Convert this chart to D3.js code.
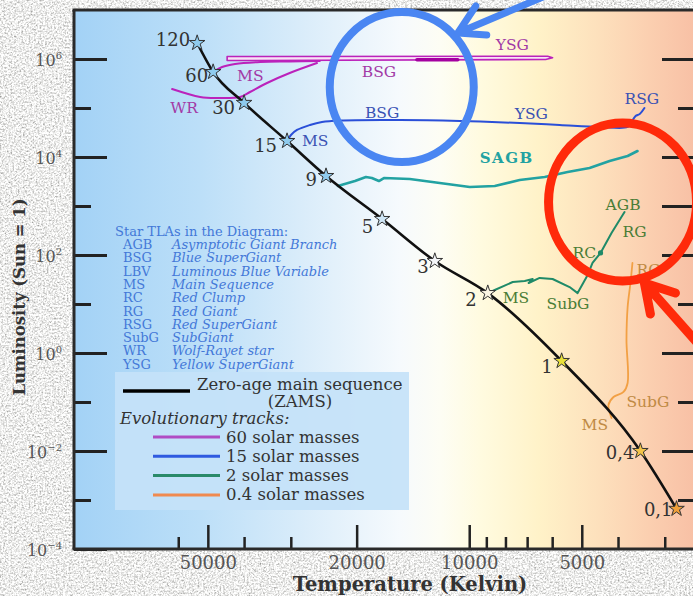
<!DOCTYPE html>
<html>
<head>
<meta charset="utf-8">
<script src="https://cdn.jsdelivr.net/npm/d3@7"></script>
<style>
  html, body { margin: 0; padding: 0; background: #d4d4d0; }
  svg { display: block; }
</style>
</head>
<body>
<script>
// ---------- data ----------
// Zero-age main sequence: stellar mass (solar masses), temperature (K), luminosity (Sun = 1)
const zamsMass  = [120, 60, 30, 15, 9, 5, 3, 2, 1, 0.4, 0.1];
const zamsTemp  = [53400, 48400, 40000, 30700, 24150, 17100, 12360, 8920, 5660, 3485, 2790];
const zamsLum   = [2.12e6, 5.43e5, 1.27e5, 2.12e4, 4090, 543, 75.5, 16.7, 0.687, 0.01, 6.6e-4];
const zamsLabel = ["120", "60", "30", "15", "9", "5", "3", "2", "1", "0,4", "0,1"];

// 60 solar masses: rise off the ZAMS, supergiant loop (band), return to Wolf-Rayet
const track60Rise = [[48400, 5.43e5], [45800, 6.87e5], [42300, 7.9e5], [36200, 8.69e5], [30200, 8.9e5], [25100, 9.1e5]];
const track60Band = [[44400, 1.125e6], [6170, 1.14e6], [5985, 1.058e6], [6245, 9.77e5], [44400, 9.31e5]];
const track60LBV  = [[13800, 9.6e5], [10730, 9.6e5]];
const track60WR   = [[25540, 8.28e5], [30200, 5.18e5], [34730, 3.24e5], [38560, 2.12e5], [41000, 1.68e5],
                     [47220, 1.6e5], [52430, 1.68e5], [62300, 2.44e5]];

// 15 solar masses
const track15 = [[30700, 2.12e4], [29970, 2.81e4], [28880, 3.56e4], [26660, 4.5e4], [24760, 5.18e4],
                 [22170, 5.56e4], [15330, 5.69e4], [10600, 5.43e4], [7330, 4.94e4], [5730, 4.5e4],
                 [4480, 4.1e4], [3770, 4.1e4], [3680, 5.18e4], [3590, 6.87e4], [3500, 7.55e4], [3400, 1.0e5]];

// 9 solar masses: super-AGB
const trackSAGB = [[22450, 2560], [20210, 3236], [18890, 3908], [18210, 3724], [17440, 3236], [16910, 3724],
                   [14420, 3557], [11990, 2946], [9965, 2443], [8545, 2560], [7330, 3396], [6283, 3908],
                   [5455, 4943], [4766, 5970], [4213, 8278], [3770, 10470], [3548, 13240]];

// 2 solar masses
const track2 = [[8920, 16.7], [8545, 19.3], [7650, 28.1], [7105, 29.5], [6765, 32.4], [6935, 26.8],
                [6481, 34], [5985, 32.4], [5390, 22.2], [5130, 16.7], [4822, 39.1], [4680, 68.7],
                [4455, 110], [4163, 281], [3843, 755]];
const track2Clump = [4455, 110];

// 0.4 solar masses
const track04 = [[4163, 0.0471], [4242, 0.0869], [4113, 0.1265], [3867, 0.16], [3770, 0.2443],
                 [3797, 1.84], [3770, 8.69], [3705, 26.8], [3660, 68.7]];

// stage labels along each track: [text, T, L]
const labels60 = [["MS", 41760, 3.56e5], ["WR", 63040, 7.91e4], ["BSG", 19370, 4.3e5], ["YSG", 8495, 1.53e6]];
const labels15 = [["MS", 28010, 1.67e4], ["BSG", 19010, 6.25e4], ["YSG", 7555, 5.97e4], ["RSG", 3843, 1.21e5]];
const labels2  = [["MS", 8135, 10.5], ["SubG", 6210, 7.91], ["RC", 5295, 86.9], ["AGB", 4318, 828], ["RG", 3890, 233]];
const labels04 = [["RG", 3570, 39.1], ["SubG", 3797, 0.0791], ["MS", 5005, 0.0269]];
const labelSAGB = ["SAGB", 9373, 7550];

// axis ticks
const tempMajorTicks = [50000, 20000, 10000, 5000];
const tempMinorTicks = [60000, 40000, 30000, 9000, 8000, 7000, 6000, 4000, 3000];
const lumMajorTicks  = [1e6, 1e4, 1e2, 1, 1e-2, 1e-4];
const lumMinorTicks  = [1e5, 1e3, 10, 0.1, 1e-3];
const rightMajorTicks = [1e6, 1e4, 1e3, 1e2, 1, 1e-2];
const rightMinorTicks = [1e5, 10, 0.1, 1e-3];

// glossary and legend
const tlaCodes = ["AGB", "BSG", "LBV", "MS", "RC", "RG", "RSG", "SubG", "WR", "YSG"];
const tlaNames = ["Asymptotic Giant Branch", "Blue SuperGiant", "Luminous Blue Variable", "Main Sequence",
                  "Red Clump", "Red Giant", "Red SuperGiant", "SubGiant", "Wolf-Rayet star", "Yellow SuperGiant"];
const trackNames = ["60 solar masses", "15 solar masses", "2 solar masses", "0.4 solar masses"];

// highlighted regions (centres in T, L)
const highlightBlue = [15150, 2.68e5];
const highlightRed  = [3890, 1208];
const arrowBlueTip  = [10730, 3.4e6];
const arrowRedTip   = [3400, 26.8];

// ---------- styling ----------
const W = 693, H = 596;
const plot = { left: 74, right: 695, top: 10, bottom: 549 };
const FONT = "'DejaVu Serif', serif";
const col = {
  m60: "#bb22bb", m60Text: "#a23aa6", m60Legend: "#b04cc4",
  m15: "#2a4fd8", m15Text: "#3a52b4", m15Legend: "#2f5ae0",
  sagb: "#22a2a2",
  m2: "#1f8a68", m2Text: "#4a7d36", m2Legend: "#2a8a6a",
  m04: "#f2a044", m04Text: "#c08a44", m04Legend: "#f08a50",
  tla: "#4378d8", ink: "#333333"
};
const starFill = d => d >= 9 ? "#8fcbee" : d >= 5 ? "#cfe6f6" : d >= 3 ? "#f5f7f9" : d >= 2 ? "#fbf6e4"
                    : d >= 1 ? "#e9e03a" : d >= 0.4 ? "#f2c44a" : "#f0a03a";
// label anchor: right edge and vertical centre relative to the star
const zamsLabelOffset = [[-7, -3], [-5, 4], [-9, 5], [-10, 5], [-9, 4], [-9, 8], [-6, 6], [-11, 7], [-9, 6], [-6, 2], [-4, 1]];

// ---------- scales ----------
const x = d3.scaleLog().domain([114000, 2490]).range([plot.left, plot.right]);
const y = d3.scaleLog().domain([1e-4, 1e7]).range([plot.bottom, plot.top]);

const svg = d3.select("body").append("svg").attr("width", W).attr("height", H)
  .attr("font-family", FONT);

const defs = svg.append("defs");
// speckled stone texture for the surround
const stone = defs.append("filter").attr("id", "stone")
  .attr("x", 0).attr("y", 0).attr("width", "100%").attr("height", "100%");
stone.append("feTurbulence").attr("type", "fractalNoise").attr("baseFrequency", 0.55)
  .attr("numOctaves", 4).attr("seed", 11);
stone.append("feColorMatrix").attr("type", "matrix")
  .attr("values", "1.3 0 0 0 0.2  1.3 0 0 0 0.2  1.3 0 0 0 0.19  0 0 0 0 1");

// blackbody-like background colour across temperature
const bgStops = [[114000, "#a3d2f6"], [52400, "#bcdff8"], [28350, "#d9ecfa"], [15330, "#f6fafd"],
                 [11990, "#fdfdf4"], [9373, "#fffbe0"], [6481, "#fff2c8"], [4480, "#fde0bc"],
                 [3296, "#fbcfb0"], [2490, "#f8c0a5"]];
const grad = defs.append("linearGradient").attr("id", "bb")
  .attr("gradientUnits", "userSpaceOnUse")
  .attr("x1", plot.left).attr("x2", plot.right).attr("y1", 0).attr("y2", 0);
grad.selectAll("stop").data(bgStops).join("stop")
  .attr("offset", d => (x(d[0]) - plot.left) / (plot.right - plot.left))
  .attr("stop-color", d => d[1]);

svg.append("rect").attr("width", W).attr("height", H).attr("filter", "url(#stone)");
svg.append("rect").attr("x", plot.left).attr("y", plot.top)
  .attr("width", plot.right - plot.left).attr("height", plot.bottom - plot.top)
  .attr("fill", "url(#bb)");

// ---------- glossary ----------
const gl = svg.append("g").attr("font-size", 13).attr("fill", col.tla);
gl.append("text").attr("x", 115).attr("y", 236).text("Star TLAs in the Diagram:");
gl.selectAll("text.code").data(tlaCodes).join("text").attr("class", "code")
  .attr("x", 123).attr("y", (d, i) => 249 + i * 13.3).text(d => d);
gl.selectAll("text.name").data(tlaNames).join("text").attr("class", "name")
  .attr("x", 172).attr("y", (d, i) => 249 + i * 13.3).attr("font-style", "italic").text(d => d);

// ---------- legend ----------
const lg = svg.append("g").attr("fill", col.ink).attr("font-size", 16.5);
lg.append("rect").attr("x", 115).attr("y", 372).attr("width", 294).attr("height", 138)
  .attr("fill", "#c4e2f9").attr("opacity", 0.92);
lg.append("line").attr("x1", 123).attr("x2", 190).attr("y1", 391).attr("y2", 391)
  .attr("stroke", "#000").attr("stroke-width", 3.5);
lg.append("text").attr("x", 197).attr("y", 390).text("Zero-age main sequence");
lg.append("text").attr("x", 300).attr("y", 407).attr("text-anchor", "middle").text("(ZAMS)");
lg.append("text").attr("x", 120).attr("y", 424).attr("font-style", "italic").text("Evolutionary tracks:");
const legendColors = [col.m60Legend, col.m15Legend, col.m2Legend, col.m04Legend];
trackNames.forEach((name, i) => {
  const yy = 437 + i * 19.3;
  lg.append("line").attr("x1", 153).attr("x2", 220).attr("y1", yy).attr("y2", yy)
    .attr("stroke", legendColors[i]).attr("stroke-width", 3);
  lg.append("text").attr("x", 226).attr("y", yy + 5.5).text(name);
});

// ---------- axes ----------
function styleTicks(g, w) {
  g.select(".domain").remove();
  g.selectAll(".tick line").attr("stroke", "#222").attr("stroke-width", w);
}
const supText = d => {
  const e = Math.round(Math.log10(d));
  return e < 0 ? "\u2212" + Math.abs(e) : String(e);
};
svg.append("g").attr("transform", `translate(${plot.left},0)`)
  .call(d3.axisLeft(y).tickValues(lumMajorTicks).tickSizeInner(-33).tickSizeOuter(0)
    .tickPadding(12).tickFormat(() => ""))
  .call(g => styleTicks(g, 3))
  .call(g => g.selectAll(".tick text").attr("font-family", FONT).attr("font-size", 16)
    .attr("fill", "#555").attr("dy", "0.38em")
    .each(function (d) {
      const t = d3.select(this);
      t.append("tspan").text("10");
      t.append("tspan").attr("font-size", 10).attr("dy", -7).text(supText(d));
    }));
svg.append("g").attr("transform", `translate(${plot.left},0)`)
  .call(d3.axisLeft(y).tickValues(lumMinorTicks).tickSizeInner(-17).tickSizeOuter(0).tickFormat(() => ""))
  .call(g => styleTicks(g, 3));
svg.append("g").attr("transform", `translate(${plot.right},0)`)
  .call(d3.axisRight(y).tickValues(rightMajorTicks).tickSizeInner(-33).tickSizeOuter(0).tickFormat(() => ""))
  .call(g => styleTicks(g, 3));
svg.append("g").attr("transform", `translate(${plot.right},0)`)
  .call(d3.axisRight(y).tickValues(rightMinorTicks).tickSizeInner(-17).tickSizeOuter(0).tickFormat(() => ""))
  .call(g => styleTicks(g, 3));

svg.append("g").attr("transform", `translate(0,${plot.bottom})`)
  .call(d3.axisBottom(x).tickValues(tempMajorTicks).tickSizeInner(-24).tickSizeOuter(0)
    .tickPadding(7).tickFormat(d3.format("d")))
  .call(g => styleTicks(g, 2.5))
  .call(g => g.selectAll(".tick text").attr("font-family", FONT).attr("font-size", 18).attr("fill", "#555"));
svg.append("g").attr("transform", `translate(0,${plot.bottom})`)
  .call(d3.axisBottom(x).tickValues(tempMinorTicks).tickSizeInner(-12).tickSizeOuter(0).tickFormat(() => ""))
  .call(g => styleTicks(g, 2.5));

// axis titles
svg.append("text").attr("transform", "translate(25,297) rotate(-90)").attr("text-anchor", "middle")
  .attr("font-weight", "bold").attr("font-size", 16.5).attr("fill", "#333").text("Luminosity (Sun = 1)");
svg.append("text").attr("x", 410).attr("y", 591).attr("text-anchor", "middle")
  .attr("font-weight", "bold").attr("font-size", 19.5).attr("fill", "#333").text("Temperature (Kelvin)");

// ---------- tracks ----------
const px = d => [x(d[0]), y(d[1])];
const smooth = d3.line().x(d => x(d[0])).y(d => y(d[1])).curve(d3.curveCatmullRom.alpha(0.5));
const straight = d3.line().x(d => x(d[0])).y(d => y(d[1]));
const tracks = svg.append("g").attr("fill", "none").attr("stroke-linejoin", "round").attr("stroke-linecap", "round");

tracks.append("path").attr("d", straight(track60Band) + "Z")
  .attr("fill", "#f7e2f5").attr("stroke", col.m60).attr("stroke-width", 1.6);
tracks.append("path").attr("d", straight(track60LBV)).attr("stroke", "#a400a0").attr("stroke-width", 3.5);
tracks.append("path").attr("d", smooth(track60Rise)).attr("stroke", col.m60).attr("stroke-width", 2);
tracks.append("path").attr("d", smooth(track60WR)).attr("stroke", col.m60).attr("stroke-width", 2);

tracks.append("path").attr("d", smooth(track15)).attr("stroke", col.m15).attr("stroke-width", 2);
tracks.append("path").attr("d", straight(trackSAGB)).attr("stroke", col.sagb).attr("stroke-width", 2.6);
tracks.append("path").attr("d", straight(track2)).attr("stroke", col.m2).attr("stroke-width", 2);
tracks.append("circle").attr("cx", x(track2Clump[0])).attr("cy", y(track2Clump[1])).attr("r", 2.6)
  .attr("fill", col.m2).attr("stroke", "none");
tracks.append("path").attr("d", smooth(track04)).attr("stroke", col.m04).attr("stroke-width", 1.8);

// ZAMS
const zams = zamsMass.map((m, i) => ({ m, T: zamsTemp[i], L: zamsLum[i], label: zamsLabel[i], off: zamsLabelOffset[i] }));
svg.append("path").datum(zams)
  .attr("d", d3.line().x(d => x(d.T)).y(d => y(d.L)).curve(d3.curveMonotoneX))
  .attr("fill", "none").attr("stroke", "#111").attr("stroke-width", 2.6);

// stage labels
function stageLabels(data, color, opts = {}) {
  svg.append("g").attr("font-size", opts.size || 15.5).attr("fill", color)
    .attr("font-weight", opts.weight || "normal").attr("letter-spacing", opts.spacing || 0)
    .selectAll("text").data(data).join("text")
    .attr("x", d => x(d[1])).attr("y", d => y(d[2])).text(d => d[0]);
}
stageLabels(labels60, col.m60Text);
stageLabels(labels15, col.m15Text);
stageLabels(labels2, col.m2Text);
stageLabels(labels04, col.m04Text);
stageLabels([labelSAGB], col.sagb, { weight: "bold", size: 15, spacing: 1.5 });

// stars and mass labels
const stars = svg.append("g");
stars.selectAll("path").data(zams).join("path")
  .attr("transform", d => `translate(${x(d.T)},${y(d.L)})`)
  .attr("d", d3.symbol().type(d3.symbolStar).size(75))
  .attr("fill", d => starFill(d.m)).attr("stroke", "#333").attr("stroke-width", 1);
stars.selectAll("text").data(zams).join("text")
  .attr("x", d => x(d.T) + d.off[0]).attr("y", d => y(d.L) + d.off[1] + 6)
  .attr("text-anchor", "end").attr("font-size", 18).attr("fill", "#333").text(d => d.label);

// ---------- frame ----------
const frame = svg.append("g").attr("stroke", "#2a2a2a").attr("stroke-width", 3);
frame.append("line").attr("x1", plot.left - 1.5).attr("x2", plot.right).attr("y1", plot.top).attr("y2", plot.top);
frame.append("line").attr("x1", plot.left).attr("x2", plot.left).attr("y1", plot.top).attr("y2", plot.bottom);
frame.append("line").attr("x1", plot.left - 1.5).attr("x2", plot.right).attr("y1", plot.bottom).attr("y2", plot.bottom);

// ---------- highlighted regions ----------
const ann = svg.append("g").attr("fill", "none").attr("stroke-linecap", "round").attr("stroke-linejoin", "round");
ann.append("ellipse").attr("cx", x(highlightBlue[0])).attr("cy", y(highlightBlue[1]))
  .attr("rx", 72).attr("ry", 75).attr("stroke", "#4a86f2").attr("stroke-width", 8);
ann.append("ellipse").attr("cx", x(highlightRed[0])).attr("cy", y(highlightRed[1]))
  .attr("rx", 74).attr("ry", 79).attr("stroke", "#ff2a0a").attr("stroke-width", 9);

function arrow(tip, tail, b1, b2, color, w) {
  const [tx, ty] = px(tip);
  ann.append("path")
    .attr("d", `M${tx + tail[0]},${ty + tail[1]}L${tx},${ty}M${tx + b1[0]},${ty + b1[1]}L${tx},${ty}L${tx + b2[0]},${ty + b2[1]}`)
    .attr("stroke", color).attr("stroke-width", w);
}
arrow(arrowBlueTip, [90, -38], [29, 2], [18, -27], "#4a86f2", 7);
arrow(arrowRedTip, [62, 70], [31, 10], [6, 31], "#ff2a0a", 9);
</script>
</body>
</html>
